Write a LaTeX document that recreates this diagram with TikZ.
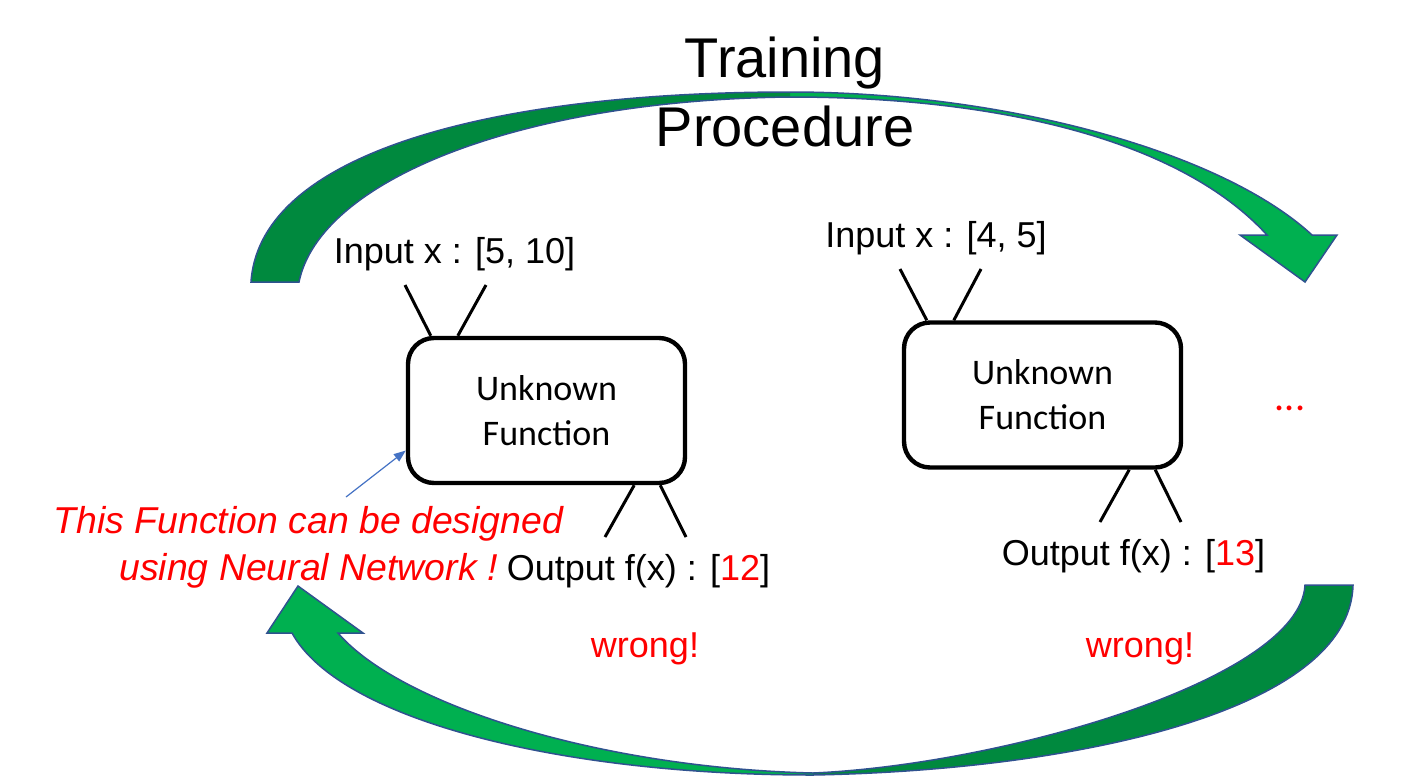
\documentclass[tikz,border=0pt]{standalone}
\usepackage{fontspec}
\setmainfont{Liberation Sans}
\newfontfamily\calibri{Carlito}
\usetikzlibrary{arrows.meta}
\definecolor{grnlight}{RGB}{0,176,80}
\definecolor{grndark}{RGB}{0,137,62}
\definecolor{grnedge}{RGB}{47,82,143}
\definecolor{noteblue}{RGB}{68,114,196}

\begin{document}
\begin{tikzpicture}[x=0.5pt,y=0.5pt,yscale=-1,xscale=1,
  lbl/.style={inner sep=0.75pt,font=\fontsize{18}{22}\selectfont},
  wrong/.style={lbl,text=red},
  fbox/.style={draw,line width=2.2pt,rounded corners=13pt,minimum width=138.5pt,minimum height=72.5pt,align=center,font=\calibri\fontsize{18}{22.5}\selectfont},
  wire/.style={line width=1.5pt},
  bigarrow/.style={draw=grnedge,line width=0.75pt,line join=miter}]
\useasboundingbox (0,0) rectangle (1416,777);

%Curved Arrow (top)
\fill[grnlight] (790,92) .. controls (1000,92) and (1220,150) .. (1312,235) -- (1337,235) -- (1305,282) -- (1240,235) -- (1267,235) .. controls (1180,140) and (1000,97) .. (790,97) -- cycle;
\fill[grndark] (251,282) .. controls (260,150) and (500,92) .. (790,92) -- (790,97) .. controls (520,100) and (320,180) .. (299,282) -- cycle;
\draw[bigarrow] (251,282) .. controls (260,150) and (500,92) .. (790,92) .. controls (1000,92) and (1220,150) .. (1312,235) -- (1337,235) -- (1305,282) -- (1240,235) -- (1267,235) .. controls (1180,140) and (1000,97) .. (790,97) .. controls (520,100) and (320,180) .. (299,282) -- cycle;

%Curved Arrow (bottom)
\fill[grndark] (1353,585) .. controls (1350,710) and (1080,770) .. (813,775) -- (813,773) .. controls (1000,765) and (1300,680) .. (1305,585) -- cycle;
\fill[grnlight] (813,775) .. controls (560,775) and (340,720) .. (292,633) -- (267,633) -- (298,586) -- (363,633) -- (338,633) .. controls (400,705) and (600,768) .. (813,773) -- cycle;
\draw[bigarrow] (1353,585) .. controls (1350,710) and (1080,770) .. (813,775) .. controls (560,775) and (340,720) .. (292,633) -- (267,633) -- (298,586) -- (363,633) -- (338,633) .. controls (400,705) and (600,768) .. (813,773) .. controls (1000,765) and (1300,680) .. (1305,585) -- cycle;

% Text Node
\draw (785,77) node (train) [anchor=base,inner sep=0.75pt,font=\fontsize{28}{34}\selectfont] {Training};
% Text Node
\draw (785,146) node (proc) [anchor=base,inner sep=0.75pt,font=\fontsize{28}{34}\selectfont] {Procedure};

%Rounded Rect
\draw (546.5,410.5) node (box1) [fbox] {Unknown\\Function};
%Rounded Rect
\draw (1042.5,395) node (box2) [fbox] {Unknown\\Function};

% Text Node
\draw (454.5,263) node (in1) [lbl,anchor=base] {Input x : [5, 10]};
% Text Node
\draw (936,247) node (in2) [lbl,anchor=base] {Input x : [4, 5]};
% Text Node
\draw (638.5,580) node (out1) [lbl,anchor=base] {Output f(x) : [\textcolor{red}{12}]};
% Text Node
\draw (1133.5,565) node (out2) [lbl,anchor=base] {Output f(x) : [\textcolor{red}{13}]};
% Text Node
\draw (645,657) node (wr1) [wrong,anchor=base] {wrong!};
% Text Node
\draw (1140,657) node (wr2) [wrong,anchor=base] {wrong!};
% Text Node
\draw (1290,410) node (dots) [anchor=base,inner sep=0.75pt,text=red,font=\calibri\fontsize{20}{24}\selectfont] {...};
% Text Node
\draw (308.5,547) node (note) [inner sep=0.75pt,align=center,text=red,font=\itshape\fontsize{18.7}{23.5}\selectfont] {This Function can be designed\\using Neural Network !};

%Straight Lines
\coordinate (i1a) at (405,285);
\coordinate (i1b) at (486,285);
\coordinate (i2a) at (900,269);
\coordinate (i2b) at (981,269);
\coordinate (o1a) at (605,537);
\coordinate (o1b) at (686,537);
\coordinate (o2a) at (1100,522);
\coordinate (o2b) at (1181,522);
\draw[wire] (i1a) -- ([xshift=12.5pt]box1.north west);
\draw[wire] (i1b) -- ([xshift=26pt]box1.north west);
\draw[wire] (i2a) -- ([xshift=12.5pt]box2.north west);
\draw[wire] (i2b) -- ([xshift=26pt]box2.north west);
\draw[wire] ([xshift=-26.5pt]box1.south east) -- (o1a);
\draw[wire] ([xshift=-13.5pt]box1.south east) -- (o1b);
\draw[wire] ([xshift=-27pt]box2.south east) -- (o2a);
\draw[wire] ([xshift=-14pt]box2.south east) -- (o2b);

%Straight Lines
\coordinate (nt) at (346,497);
\draw[noteblue,line width=0.6pt,-{Triangle[length=6pt,width=4.5pt]}] (nt) -- ([yshift=20pt]box1.west);

\end{tikzpicture}
\end{document}
